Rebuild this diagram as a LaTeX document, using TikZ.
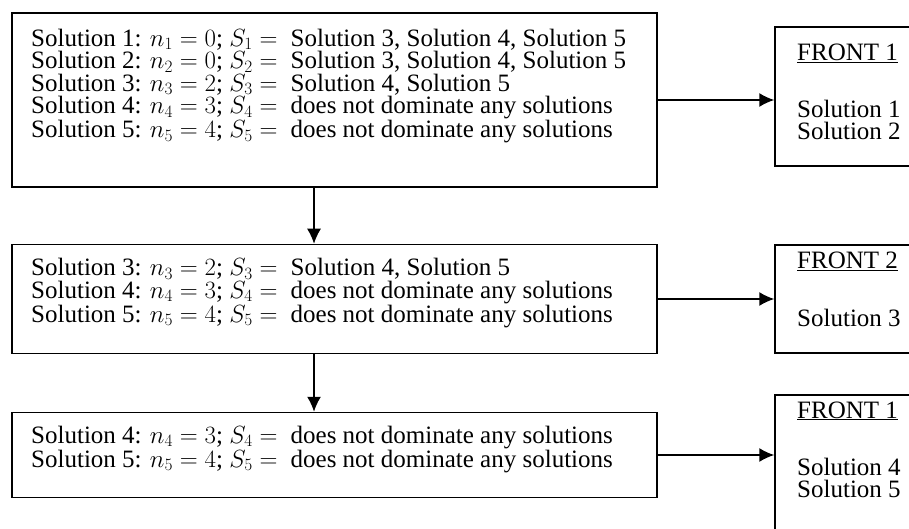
\documentclass[tikz,border=0pt]{standalone}
\usepackage{fontspec}
\setmainfont{Liberation Serif}
\usetikzlibrary{arrows.meta}
\begin{document}
\begin{tikzpicture}[x=1pt,y=-1pt,
  box/.style={draw, line width=1.5pt, rectangle, inner sep=0pt},
  % multi-line text nodes: base anchor sits on the last line
  txt/.style={anchor=base west, inner sep=0pt, align=left,
    font=\fontsize{25}{22.5}\selectfont},
  arr/.style={line width=1.5pt, -{Latex[length=15pt,width=14pt]}}]
\clip (0,0) rectangle (909,529);
\fill[white] (0,0) rectangle (909,529);

% step boxes
\node[box, minimum width=645pt, minimum height=174pt] (b1) at (334.5,100) {};
\node[box, minimum width=645pt, minimum height=109pt] (b2) at (334.5,299) {};
\node[box, minimum width=645pt, minimum height=85pt] (b3) at (334.5,455) {};

% front boxes (running off the right edge)
\node[box, minimum width=160pt, minimum height=139pt] (f1) at (855,96.5) {};
\node[box, minimum width=160pt, minimum height=108pt] (f2) at (855,299) {};
\node[box, minimum width=160pt, minimum height=164pt] (f3) at (855,477) {};

\node[txt] (t1) at (31,137.5) {%
Solution 1: $n_1 = 0$; $S_1 = {}$ Solution 3, Solution 4, Solution 5\\
Solution 2: $n_2 = 0$; $S_2 = {}$ Solution 3, Solution 4, Solution 5\\
Solution 3: $n_3 = 2$; $S_3 = {}$ Solution 4, Solution 5\\
Solution 4: $n_4 = 3$; $S_4 = {}$ does not dominate any solutions\\
Solution 5: $n_5 = 4$; $S_5 = {}$ does not dominate any solutions};

\node[txt] (t2) at (31,322) {%
Solution 3: $n_3 = 2$; $S_3 = {}$ Solution 4, Solution 5\\
Solution 4: $n_4 = 3$; $S_4 = {}$ does not dominate any solutions\\
Solution 5: $n_5 = 4$; $S_5 = {}$ does not dominate any solutions};

\node[txt] (t3) at (31,467) {%
Solution 4: $n_4 = 3$; $S_4 = {}$ does not dominate any solutions\\
Solution 5: $n_5 = 4$; $S_5 = {}$ does not dominate any solutions};

\node[txt] (h1) at (797,61) {\underline{FRONT 1}};
\node[txt] (s1) at (797,140) {Solution 1\\Solution 2};
\node[txt] (h2) at (797,268.5) {\underline{FRONT 2}};
\node[txt] (s2) at (797,326) {Solution 3};
\node[txt] (h3) at (797,418) {\underline{FRONT 1}};
\node[txt] (s3) at (797,497.5) {Solution 4\\Solution 5};

% connectors
\coordinate (ax) at (314,0);
\draw[arr] (b1.south -| ax) -- (b2.north -| ax);
\draw[arr] (b2.south -| ax) -- (b3.north -| ax);
\draw[arr] (b1.east) -- (f1.west |- b1.east);
\draw[arr] (b2.east) -- (f2.west |- b2.east);
\draw[arr] (b3.east) -- (f3.west |- b3.east);
\end{tikzpicture}
\end{document}
